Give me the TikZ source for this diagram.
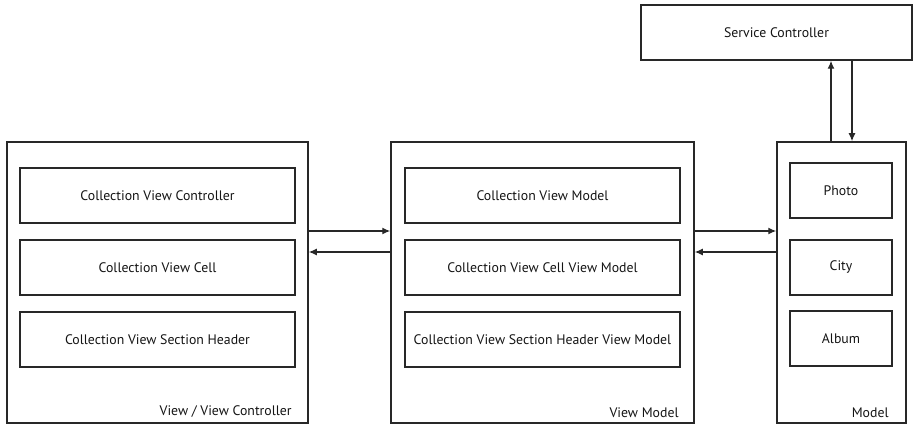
\documentclass[tikz,border=0pt]{standalone}
\usepackage{fontspec}
\setmainfont{PT Sans}
\usepackage{tikz}
\usetikzlibrary{positioning, arrows.meta}
\definecolor{linegrey}{RGB}{40,40,40}
\definecolor{textgrey}{RGB}{20,20,20}

\tikzset{
  layer/.style={draw=linegrey, line width=1.5pt, minimum width=#1, minimum height=281pt, inner sep=0pt},
  part/.style={draw=linegrey, line width=1.4pt, minimum width=#1, minimum height=55pt, inner sep=0pt, text=textgrey},
  layername/.style={anchor=south east, text=textgrey, inner sep=0pt},
  flow/.style={draw=linegrey, line width=1.3pt, -{Latex[length=8pt, width=7pt]}},
}

\begin{document}
\begin{tikzpicture}[
  x=1pt, y=-1pt,
  font=\fontsize{13.8}{15}\selectfont,
]
\useasboundingbox (0,0) rectangle (913,425);

% Service layer on top
\node[part=271pt] (sc) at (776.5,32.5) {Service Controller};

% Layer: View / View Controller
\node[layer=301pt] (vvc) at (157.5,282.5) {};
\node[part=275pt] (cvc) at (157.5,195.5) {Collection View Controller};
\node[part=275pt] (cell) at (157.5,267.5) {Collection View Cell};
\node[part=275pt] (header) at (157.5,339.5) {Collection View Section Header};
\node[layername] (vvclabel) at ([xshift=-17pt, yshift=6pt]vvc.south east) {View / View Controller};

% Layer: View Model
\node[layer=303pt] (vm) at (542.5,282.5) {};
\node[part=275pt] (cvm) at (542.5,195.5) {Collection View Model};
\node[part=275pt] (cellvm) at (542.5,267.5) {Collection View Cell View Model};
\node[part=275pt] (headervm) at (542.5,339.5) {Collection View Section Header View Model};
\node[layername] (vmlabel) at ([xshift=-16pt, yshift=6pt]vm.south east) {View Model};

% Layer: Model
\node[layer=129pt] (model) at (841.5,282.5) {};
\node[part=102pt] (photo) at (841,190.5) {Photo};
\node[part=102pt] (city) at (841,267.5) {City};
\node[part=102pt] (album) at (841,338.5) {Album};
\node[layername] (modellabel) at ([xshift=-18pt, yshift=6pt]model.south east) {Model};

% Connectors
\draw[flow] ([yshift=51.5pt]vvc.east) -- ([yshift=51.5pt]vm.west);
\draw[flow] ([yshift=30.5pt]vm.west) -- ([yshift=30.5pt]vvc.east);
\draw[flow] ([yshift=51.5pt]vm.east) -- ([yshift=51.5pt]model.west);
\draw[flow] ([yshift=30.5pt]model.west) -- ([yshift=30.5pt]vm.east);
\draw[flow] ([xshift=-10.5pt]model.north) -- ([xshift=-10.5pt]model.north |- sc.south);
\draw[flow] ([xshift=10.5pt]model.north |- sc.south) -- ([xshift=10.5pt]model.north);

\end{tikzpicture}
\end{document}
